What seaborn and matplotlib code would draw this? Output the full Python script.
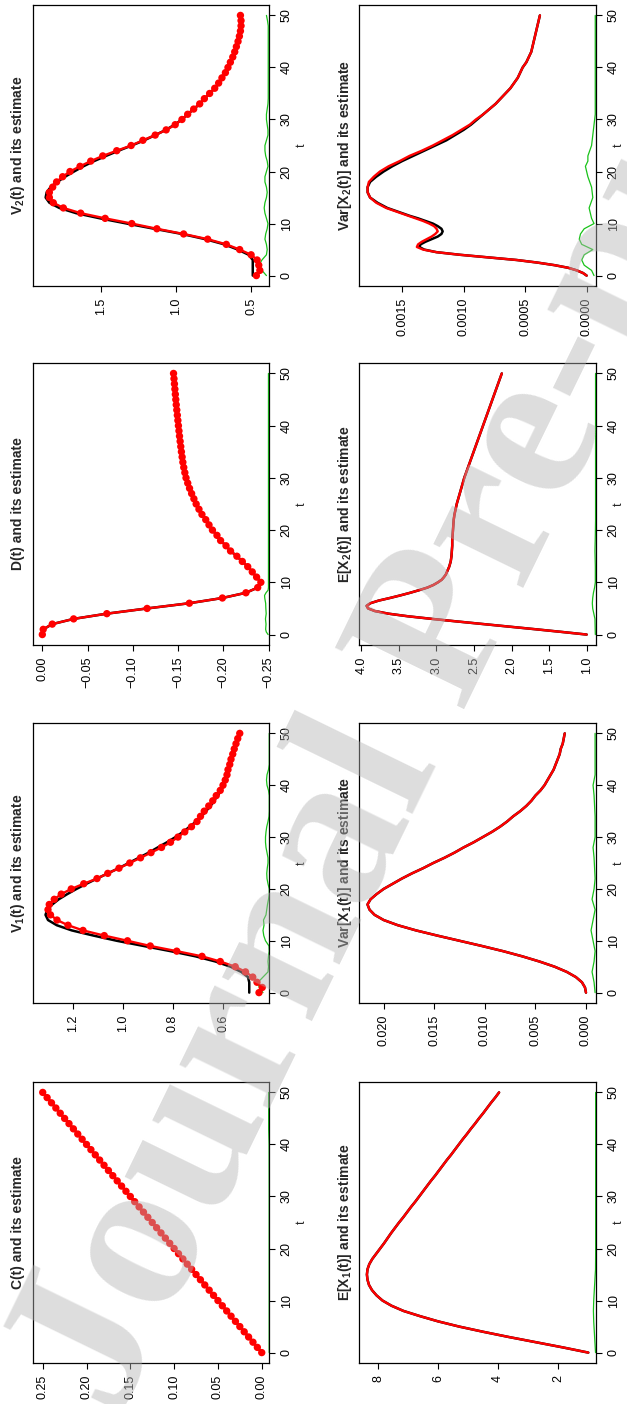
import numpy as np
import matplotlib
matplotlib.use("Agg")
import matplotlib.pyplot as plt
import seaborn as sns

sns.set_style("ticks")
plt.rcParams["font.family"] = ["Liberation Sans", "DejaVu Sans"]
plt.rcParams["mathtext.fontset"] = "custom"
plt.rcParams["mathtext.rm"] = "Liberation Sans"
plt.rcParams["mathtext.bf"] = "Liberation Sans:bold"
plt.rcParams["axes.unicode_minus"] = True

# ---------------- time grids ----------------
t_int = np.arange(0, 51)
t_fine = np.concatenate([np.arange(0, 12.5, 0.5), np.arange(13, 51)])

# ---------------- C(t) ----------------
c_true = [0.000, 0.005, 0.010, 0.015, 0.020, 0.025, 0.030, 0.035, 0.040, 0.045,
          0.050, 0.055, 0.060, 0.065, 0.070, 0.075, 0.080, 0.085, 0.090, 0.095,
          0.100, 0.105, 0.110, 0.115, 0.120, 0.125, 0.130, 0.135, 0.140, 0.145,
          0.150, 0.155, 0.160, 0.165, 0.170, 0.175, 0.180, 0.185, 0.190, 0.195,
          0.200, 0.205, 0.210, 0.215, 0.220, 0.225, 0.230, 0.235, 0.240, 0.245, 0.250]
c_est = c_true
c_err_t = [0, 10, 20, 30, 40, 43, 46, 50]
c_err = [-0.0085, -0.0085, -0.0085, -0.0085, -0.0084, -0.0079, -0.0079, -0.0079]

# ---------------- V1(t) ----------------
v1_true = [0.495, 0.495, 0.495, 0.500, 0.527, 0.570, 0.630, 0.710, 0.810, 0.918,
           1.025, 1.118, 1.205, 1.265, 1.300, 1.310, 1.303, 1.283, 1.257, 1.223,
           1.186, 1.146, 1.104, 1.061, 1.017, 0.977, 0.937, 0.897, 0.861, 0.824,
           0.790, 0.760, 0.733, 0.708, 0.686, 0.668, 0.650, 0.636, 0.621, 0.608,
           0.597, 0.589, 0.584, 0.580, 0.573, 0.568, 0.561, 0.555, 0.548, 0.541, 0.533]
v1_est = [0.456, 0.443, 0.464, 0.481, 0.510, 0.551, 0.611, 0.684, 0.785, 0.891,
          0.982, 1.075, 1.160, 1.220, 1.264, 1.290, 1.300, 1.295, 1.275, 1.247,
          1.207, 1.157, 1.104, 1.061, 1.016, 0.973, 0.930, 0.888, 0.846, 0.810,
          0.780, 0.753, 0.726, 0.704, 0.690, 0.675, 0.657, 0.641, 0.627, 0.611,
          0.600, 0.591, 0.584, 0.580, 0.573, 0.568, 0.561, 0.555, 0.548, 0.541, 0.533]
v1_err = [0.440, 0.455, 0.460, 0.440, 0.420, 0.418, 0.420, 0.418, 0.415, 0.416,
          0.430, 0.437, 0.440, 0.436, 0.438, 0.428, 0.425, 0.422, 0.418, 0.415,
          0.415, 0.420, 0.424, 0.425, 0.423, 0.420, 0.420, 0.424, 0.428, 0.430,
          0.430, 0.428, 0.425, 0.420, 0.416, 0.415, 0.415, 0.415, 0.415, 0.418,
          0.424, 0.426, 0.424, 0.418, 0.415, 0.415, 0.415, 0.415, 0.415, 0.415, 0.415]

# ---------------- D(t) ----------------
d_true = [0.000, -0.001, -0.011, -0.0346, -0.0713, -0.1158, -0.1625, -0.199, -0.225, -0.238,
          -0.2415, -0.2368, -0.232, -0.227, -0.221, -0.215, -0.208, -0.203, -0.197, -0.193,
          -0.188, -0.1842, -0.1806, -0.1764, -0.1731, -0.170, -0.1675, -0.165, -0.1627, -0.1607,
          -0.1588, -0.1575, -0.1563, -0.1553, -0.1545, -0.1537, -0.153, -0.1523, -0.1516, -0.151,
          -0.1504, -0.1498, -0.1492, -0.1486, -0.148, -0.1475, -0.147, -0.1465, -0.146, -0.1455, -0.145]
d_est = d_true
d_err_t = [0, 0.5, 1, 2, 3, 4, 5, 6, 7, 7.5, 8, 8.5, 9, 20, 30, 40, 50]
d_err = [-0.2495, -0.2475, -0.2468, -0.2472, -0.2466, -0.2474, -0.247, -0.2468, -0.2458, -0.2456,
         -0.2472, -0.2495, -0.2499, -0.2499, -0.2499, -0.2499, -0.2499]

# ---------------- V2(t) ----------------
v2_true = [0.491, 0.491, 0.491, 0.491, 0.518, 0.591, 0.680, 0.807, 0.962, 1.147,
           1.329, 1.507, 1.667, 1.778, 1.844, 1.869, 1.862, 1.836, 1.791, 1.740,
           1.680, 1.618, 1.547, 1.467, 1.384, 1.296, 1.213, 1.140, 1.069, 1.011,
           0.962, 0.924, 0.884, 0.844, 0.813, 0.778, 0.744, 0.718, 0.696, 0.673,
           0.656, 0.640, 0.624, 0.611, 0.600, 0.589, 0.580, 0.573, 0.569, 0.569, 0.573]
v2_est = [0.467, 0.444, 0.451, 0.462, 0.502, 0.578, 0.667, 0.791, 0.951, 1.129,
          1.296, 1.473, 1.636, 1.751, 1.818, 1.844, 1.844, 1.822, 1.796, 1.756,
          1.707, 1.640, 1.569, 1.489, 1.396, 1.300, 1.222, 1.140, 1.067, 1.007,
          0.962, 0.924, 0.884, 0.844, 0.813, 0.778, 0.744, 0.718, 0.696, 0.673,
          0.656, 0.640, 0.624, 0.611, 0.600, 0.589, 0.580, 0.573, 0.569, 0.569, 0.573]
v2_err = [0.400, 0.430, 0.450, 0.430, 0.400, 0.395, 0.400, 0.410, 0.405, 0.395,
          0.390, 0.400, 0.410, 0.415, 0.410, 0.400, 0.395, 0.400, 0.410, 0.410,
          0.400, 0.390, 0.395, 0.405, 0.410, 0.410, 0.400, 0.390, 0.390, 0.395,
          0.400, 0.400, 0.395, 0.390, 0.388, 0.388, 0.388, 0.388, 0.388, 0.388,
          0.388, 0.388, 0.388, 0.388, 0.388, 0.388, 0.388, 0.388, 0.388, 0.393, 0.400]

# ---------------- E[X1(t)] ----------------
ex1_true = [1.00, 1.85, 2.75, 3.65, 4.50, 5.30, 6.00, 6.60, 7.15, 7.55,
            7.85, 8.05, 8.20, 8.30, 8.35, 8.37, 8.35, 8.29, 8.19, 8.06,
            7.93, 7.80, 7.68, 7.56, 7.43, 7.30, 7.16, 7.03, 6.90, 6.76,
            6.63, 6.50, 6.37, 6.24, 6.10, 5.97, 5.84, 5.71, 5.57, 5.44,
            5.31, 5.18, 5.04, 4.91, 4.77, 4.64, 4.50, 4.37, 4.24, 4.10, 3.97]
ex1_est = ex1_true
ex1_err_t = [0, 2, 4, 6, 8, 10, 12, 14, 16, 20, 30, 40, 50]
ex1_err = [0.76, 0.78, 0.80, 0.82, 0.83, 0.82, 0.80, 0.78, 0.76, 0.755, 0.755, 0.755, 0.755]

# ---------------- Var[X1(t)] ----------------
vx1_true = [0.0000, 0.0001, 0.0004, 0.0010, 0.0019, 0.0031, 0.0046, 0.0063, 0.0082, 0.0103,
            0.0125, 0.0147, 0.0168, 0.0186, 0.0200, 0.0209, 0.0214, 0.0216, 0.0213, 0.0207,
            0.0200, 0.0191, 0.0182, 0.0172, 0.0161, 0.0151, 0.0140, 0.0130, 0.0121, 0.0111,
            0.0102, 0.0093, 0.0085, 0.0078, 0.0072, 0.0065, 0.0059, 0.0054, 0.0050, 0.0045,
            0.0041, 0.0038, 0.0035, 0.0032, 0.0030, 0.0028, 0.0026, 0.0025, 0.0023, 0.0022, 0.0021]
vx1_est = vx1_true
vx1_err_t = [0, 2, 4, 6, 8, 10, 12, 14, 16, 18, 20, 22, 26, 28, 30, 34, 38, 40, 42, 50]
vx1_err = [-0.0009, -0.0008, -0.0006, -0.0008, -0.0009, -0.0007, -0.0005, -0.0007, -0.0009, -0.0006,
           -0.0008, -0.0009, -0.0008, -0.0007, -0.0009, -0.0009, -0.0008, -0.0007, -0.0009, -0.0009]

# ---------------- E[X2(t)] ----------------
ex2_true = [1.00, 1.33, 1.67, 2.02, 2.37, 2.72, 3.06, 3.38, 3.64, 3.82,
            3.91, 3.93, 3.88, 3.77, 3.62, 3.48, 3.35, 3.23, 3.12, 3.04,
            2.98, 2.93, 2.90, 2.875, 2.86,
            2.83, 2.81, 2.80, 2.795, 2.79, 2.79, 2.785, 2.78, 2.775, 2.77,
            2.76, 2.745, 2.73, 2.71, 2.69, 2.67, 2.65, 2.63, 2.605, 2.58,
            2.555, 2.53, 2.505, 2.48, 2.455, 2.43, 2.405, 2.38, 2.355, 2.33,
            2.305, 2.28, 2.255, 2.23, 2.205, 2.18, 2.155, 2.13]
ex2_est = ex2_true
ex2_err_t = [0, 3, 4, 5, 6, 7, 8, 9, 10, 13, 16, 19, 22, 30, 40, 50]
ex2_err = [0.885, 0.89, 0.905, 0.92, 0.925, 0.92, 0.91, 0.895, 0.885, 0.885, 0.89, 0.885,
           0.882, 0.882, 0.882, 0.882]

# ---------------- Var[X2(t)] ----------------
vx2_true = [0.0, 0.00003, 0.00008, 0.00015, 0.00026, 0.00040, 0.00057, 0.00080, 0.00103, 0.00122,
            0.00132, 0.00136, 0.00135, 0.00131, 0.00126, 0.00121, 0.00118, 0.00117, 0.00118, 0.00121,
            0.00125, 0.00131, 0.00137, 0.00144, 0.00150,
            0.00162, 0.00170, 0.00176, 0.00178, 0.00178, 0.00176, 0.00171, 0.00165, 0.00158, 0.00150,
            0.00141, 0.00132, 0.00123, 0.00114, 0.00107, 0.00100, 0.00094, 0.00089, 0.00084, 0.00079,
            0.00074, 0.00070, 0.00066, 0.00062, 0.00059, 0.00056, 0.00054, 0.00052, 0.00049, 0.00047,
            0.00045, 0.00044, 0.00043, 0.00042, 0.00041, 0.00040, 0.00039, 0.00038]
vx2_est = [0.0, 0.00003, 0.00008, 0.00015, 0.00026, 0.00040, 0.00057, 0.00080, 0.00103, 0.00122,
           0.00133, 0.00138, 0.00137, 0.00134, 0.00130, 0.00126, 0.00123, 0.00121, 0.00122, 0.00124,
           0.00128, 0.00133, 0.00139, 0.00145, 0.00151,
           0.00163, 0.00171, 0.00176, 0.00178, 0.00178, 0.00177, 0.00173, 0.00168, 0.00161, 0.00152,
           0.00144, 0.00134, 0.00125, 0.00117, 0.00109, 0.00102, 0.00095, 0.00090, 0.00084, 0.00079,
           0.00074, 0.00070, 0.00066, 0.00062, 0.00059, 0.00056, 0.00054, 0.00052, 0.00049, 0.00047,
           0.00045, 0.00044, 0.00043, 0.00042, 0.00041, 0.00040, 0.00039, 0.00038]
vx2_err_t = [0, 1, 2, 3, 4, 5, 6, 7, 8, 9, 10, 11, 13, 15, 17, 19, 21, 22, 23, 25, 27, 29, 31, 40, 50]
vx2_err = [-0.00006, -0.00004, 0.00002, 0.00004, 0.00002, -0.00005, 0.00004, 0.00006, 0.00005, 0.00002,
           -0.00006, -0.00004, -0.00002, -0.00005, -0.00004, -0.00001, 0.00001, -0.00001, -0.00001, -0.00004,
           -0.00005, -0.00006, -0.00007, -0.00007, -0.00007]

# value-axis ticks
c_ticks = [0.00, 0.05, 0.10, 0.15, 0.20, 0.25]
c_labels = ["0.00", "0.05", "0.10", "0.15", "0.20", "0.25"]
v1_ticks = [0.6, 0.8, 1.0, 1.2]
v1_labels = ["0.6", "0.8", "1.0", "1.2"]
d_ticks = [0.00, -0.05, -0.10, -0.15, -0.20, -0.25]
d_labels = ["0.00", "\u22120.05", "\u22120.10", "\u22120.15", "\u22120.20", "\u22120.25"]
v2_ticks = [0.5, 1.0, 1.5]
v2_labels = ["0.5", "1.0", "1.5"]
ex1_ticks = [2, 4, 6, 8]
ex1_labels = ["2", "4", "6", "8"]
vx1_ticks = [0.000, 0.005, 0.010, 0.015, 0.020]
vx1_labels = ["0.000", "0.005", "0.010", "0.015", "0.020"]
ex2_ticks = [1.0, 1.5, 2.0, 2.5, 3.0, 3.5, 4.0]
ex2_labels = ["1.0", "1.5", "2.0", "2.5", "3.0", "3.5", "4.0"]
vx2_ticks = [0.0000, 0.0005, 0.0010, 0.0015]
vx2_labels = ["0.0000", "0.0005", "0.0010", "0.0015"]
t_ticks = [0, 10, 20, 30, 40, 50]
t_labels = ["0", "10", "20", "30", "40", "50"]

RED = "#ff0000"
GREEN = "#19c219"

W, H = 627, 1404
fig = plt.figure(figsize=(W / 100, H / 100), dpi=100)
fig.patch.set_facecolor("white")


def make_axes(left_px, top_px, width_px, height_px):
    return fig.add_axes([left_px / W, 1 - (top_px + height_px) / H, width_px / W, height_px / H])


def panel(ax, t_true, y_true, t_est, y_est, t_err, y_err, xlim, ticks, labels, title,
          dots=False, title_x=-0.064, t_label_x=1.14):
    sns.lineplot(x=y_true, y=t_true, orient="y", color="black", linewidth=1.8,
                 errorbar=None, ax=ax)
    sns.lineplot(x=y_est, y=t_est, orient="y", color=RED, linewidth=1.7,
                 errorbar=None, ax=ax)
    if dots:
        sns.scatterplot(x=y_est, y=t_est, color=RED, s=28, edgecolor="none",
                        linewidth=0, ax=ax, zorder=4)
    sns.lineplot(x=y_err, y=t_err, orient="y", color=GREEN, linewidth=0.9,
                 errorbar=None, ax=ax)
    ax.set_xlim(*xlim)
    ax.set_ylim(-2, 52)
    ax.set_xticks(ticks)
    ax.set_xticklabels(labels, rotation=90, ha="center", va="top")
    ax.yaxis.tick_right()
    ax.yaxis.set_label_position("right")
    ax.set_yticks(t_ticks)
    ax.set_yticklabels(t_labels, rotation=90, va="center", ha="left")
    ax.set_ylabel("t", rotation=90, fontsize=9)
    ax.yaxis.label.set_verticalalignment("center")
    ax.yaxis.label.set_horizontalalignment("center")
    ax.yaxis.set_label_coords(t_label_x, 0.5)
    ax.set_xlabel("")
    ax.tick_params(axis="both", direction="out", length=4.5, width=0.8,
                   labelsize=9, pad=4, colors="black")
    for sp in ax.spines.values():
        sp.set_visible(True)
        sp.set_color("black")
        sp.set_linewidth(0.9)
    ax.set_facecolor("white")
    ax.text(title_x, 0.5, title, transform=ax.transAxes, rotation=90,
            ha="center", va="center", fontsize=10, fontweight="bold")


# left column (top row of the panel grid)
ax = make_axes(33, 1082, 236, 281)
panel(ax, t_int, c_true, t_int, c_est, c_err_t, c_err, (0.2611, -0.0083),
      c_ticks, c_labels, "C(t) and its estimate", dots=True)

ax = make_axes(33, 723, 236, 280)
panel(ax, t_int, v1_true, t_int, v1_est, t_int, v1_err, (1.36, 0.416),
      v1_ticks, v1_labels, r"$\mathbf{V_1(t)}$ and its estimate", dots=True)

ax = make_axes(33, 363, 236, 282)
panel(ax, t_int, d_true, t_int, d_est, d_err_t, d_err, (0.0103, -0.2505),
      d_ticks, d_labels, "D(t) and its estimate", dots=True)

ax = make_axes(33, 5, 236, 281)
panel(ax, t_int, v2_true, t_int, v2_est, t_int, v2_err, (1.953, 0.383),
      v2_ticks, v2_labels, r"$\mathbf{V_2(t)}$ and its estimate", dots=True)

# right column (bottom row of the panel grid)
ax = make_axes(359, 1082, 237, 281)
panel(ax, t_int, ex1_true, t_int, ex1_est, ex1_err_t, ex1_err, (8.633, 0.744),
      ex1_ticks, ex1_labels, r"$\mathbf{E[X_1(t)]}$ and its estimate", title_x=-0.06,
      t_label_x=1.097)

ax = make_axes(359, 723, 237, 280)
panel(ax, t_int, vx1_true, t_int, vx1_est, vx1_err_t, vx1_err, (0.02244, -0.00099),
      vx1_ticks, vx1_labels, r"$\mathbf{Var[X_1(t)]}$ and its estimate", title_x=-0.06,
      t_label_x=1.097)

ax = make_axes(359, 363, 237, 282)
panel(ax, t_fine, ex2_true, t_fine, ex2_est, ex2_err_t, ex2_err, (4.031, 0.876),
      ex2_ticks, ex2_labels, r"$\mathbf{E[X_2(t)]}$ and its estimate", title_x=-0.06,
      t_label_x=1.097)

ax = make_axes(359, 5, 237, 281)
panel(ax, t_fine, vx2_true, t_fine, vx2_est, vx2_err_t, vx2_err, (0.00185, -0.000076),
      vx2_ticks, vx2_labels, r"$\mathbf{Var[X_2(t)]}$ and its estimate", title_x=-0.06,
      t_label_x=1.097)

# diagonal watermark across the page
fig.text(118 / W, 1 - 1420 / H, "Journal Pre-proof", rotation=64, rotation_mode="anchor",
         ha="left", va="baseline", fontsize=158, fontweight="bold",
         family=["Liberation Serif", "DejaVu Serif"], color="#b4b4b4", alpha=0.45, zorder=10)

fig.savefig("out.png", dpi=100, facecolor="white")
